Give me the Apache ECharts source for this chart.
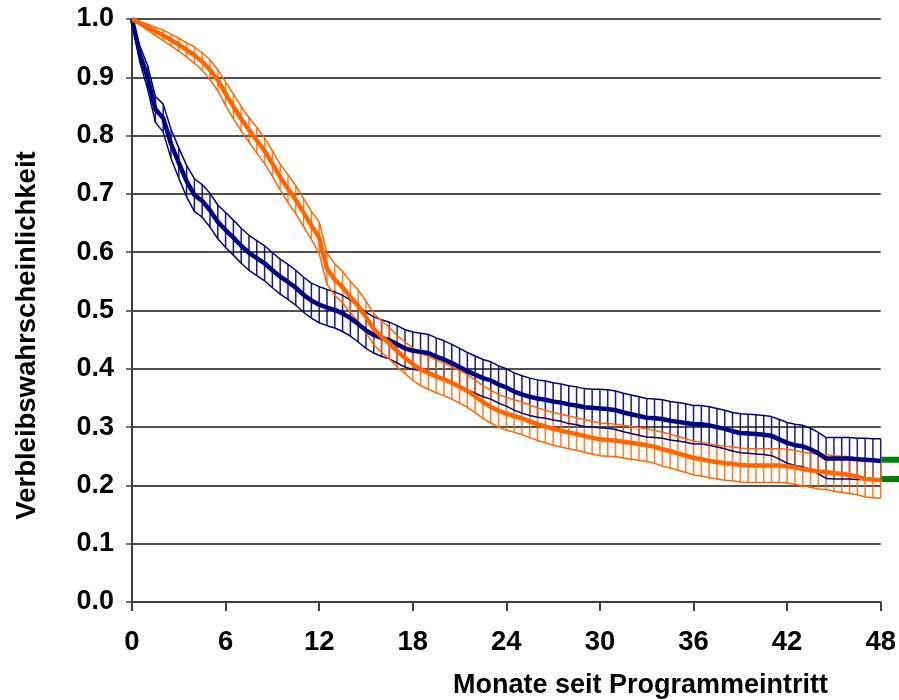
<!DOCTYPE html>
<html>
<head>
<meta charset="utf-8">
<script src="https://cdn.jsdelivr.net/npm/echarts@6/dist/echarts.min.js"></script>
<style>
  html, body { margin: 0; padding: 0; background: #fff; }
  #chart { width: 899px; height: 700px; }
</style>
</head>
<body>
<div id="chart"></div>
<script>
// Monate 0, 0.5, ... 48
var months = [];
for (var i = 0; i <= 96; i++) { months.push(i / 2); }

var yTicks = ['0.0', '0.1', '0.2', '0.3', '0.4', '0.5', '0.6', '0.7', '0.8', '0.9', '1.0'];
var xTicks = [0, 6, 12, 18, 24, 30, 36, 42, 48];

// dunkelblaue Kurve
var blueMain = [1.000, 0.940, 0.900, 0.845, 0.830, 0.786, 0.753, 0.722, 0.698, 0.688,
    0.672, 0.652, 0.638, 0.625, 0.611, 0.599, 0.590, 0.581, 0.569, 0.558,
    0.549, 0.539, 0.527, 0.517, 0.510, 0.505, 0.501, 0.495, 0.487, 0.477,
    0.466, 0.458, 0.453, 0.449, 0.442, 0.435, 0.431, 0.429, 0.427, 0.421,
    0.416, 0.410, 0.403, 0.396, 0.390, 0.384, 0.380, 0.373, 0.368, 0.361,
    0.356, 0.352, 0.349, 0.347, 0.344, 0.342, 0.339, 0.337, 0.334, 0.333,
    0.332, 0.331, 0.329, 0.325, 0.322, 0.319, 0.316, 0.315, 0.314, 0.311,
    0.309, 0.307, 0.305, 0.305, 0.303, 0.300, 0.297, 0.293, 0.290, 0.289,
    0.288, 0.287, 0.285, 0.279, 0.273, 0.269, 0.267, 0.262, 0.255, 0.246,
    0.246, 0.246, 0.246, 0.245, 0.244, 0.243, 0.242];
var blueHigh = [1.000, 0.954, 0.920, 0.867, 0.854, 0.811, 0.779, 0.749, 0.726, 0.716,
    0.701, 0.681, 0.668, 0.655, 0.641, 0.629, 0.620, 0.611, 0.599, 0.588,
    0.579, 0.569, 0.557, 0.547, 0.541, 0.536, 0.532, 0.526, 0.518, 0.508,
    0.497, 0.489, 0.484, 0.480, 0.474, 0.467, 0.463, 0.461, 0.459, 0.453,
    0.448, 0.442, 0.435, 0.428, 0.422, 0.416, 0.412, 0.405, 0.400, 0.393,
    0.388, 0.384, 0.381, 0.379, 0.376, 0.374, 0.371, 0.369, 0.366, 0.365,
    0.365, 0.364, 0.362, 0.358, 0.355, 0.352, 0.349, 0.348, 0.347, 0.344,
    0.342, 0.340, 0.337, 0.337, 0.335, 0.332, 0.329, 0.325, 0.323, 0.322,
    0.321, 0.320, 0.318, 0.313, 0.308, 0.305, 0.303, 0.298, 0.291, 0.282,
    0.282, 0.282, 0.282, 0.281, 0.281, 0.280, 0.280];
var blueLow = [1.000, 0.926, 0.880, 0.823, 0.806, 0.761, 0.727, 0.695, 0.670, 0.660,
    0.643, 0.623, 0.608, 0.595, 0.581, 0.569, 0.560, 0.551, 0.539, 0.528,
    0.519, 0.509, 0.497, 0.487, 0.479, 0.474, 0.470, 0.464, 0.456, 0.446,
    0.435, 0.427, 0.421, 0.417, 0.410, 0.403, 0.399, 0.397, 0.395, 0.389,
    0.384, 0.378, 0.371, 0.364, 0.358, 0.352, 0.348, 0.341, 0.336, 0.329,
    0.324, 0.320, 0.317, 0.315, 0.312, 0.310, 0.306, 0.304, 0.301, 0.300,
    0.299, 0.298, 0.296, 0.292, 0.289, 0.286, 0.283, 0.282, 0.281, 0.278,
    0.276, 0.274, 0.271, 0.271, 0.269, 0.266, 0.263, 0.259, 0.256, 0.255,
    0.254, 0.253, 0.251, 0.245, 0.238, 0.234, 0.232, 0.227, 0.220, 0.212,
    0.211, 0.211, 0.211, 0.210, 0.210, 0.209, 0.209];

// orange Kurve
var orangeMain = [1.000, 0.993, 0.986, 0.979, 0.972, 0.964, 0.956, 0.947, 0.938, 0.927,
    0.913, 0.895, 0.872, 0.850, 0.829, 0.810, 0.792, 0.774, 0.752, 0.729,
    0.709, 0.690, 0.668, 0.646, 0.625, 0.572, 0.553, 0.540, 0.523, 0.508,
    0.489, 0.468, 0.455, 0.444, 0.430, 0.419, 0.408, 0.399, 0.393, 0.387,
    0.382, 0.376, 0.369, 0.362, 0.353, 0.343, 0.335, 0.328, 0.323, 0.319,
    0.315, 0.310, 0.305, 0.301, 0.297, 0.294, 0.291, 0.288, 0.285, 0.282,
    0.279, 0.278, 0.277, 0.275, 0.273, 0.271, 0.269, 0.266, 0.262, 0.259,
    0.255, 0.251, 0.247, 0.245, 0.242, 0.240, 0.238, 0.237, 0.235, 0.234,
    0.234, 0.234, 0.234, 0.234, 0.233, 0.231, 0.228, 0.226, 0.224, 0.223,
    0.221, 0.220, 0.218, 0.215, 0.211, 0.210, 0.209];
var orangeHigh = [1.000, 0.996, 0.991, 0.986, 0.981, 0.974, 0.967, 0.959, 0.952, 0.942,
    0.930, 0.913, 0.892, 0.871, 0.850, 0.831, 0.814, 0.796, 0.774, 0.751,
    0.733, 0.714, 0.692, 0.670, 0.652, 0.599, 0.580, 0.567, 0.550, 0.535,
    0.516, 0.495, 0.482, 0.471, 0.457, 0.446, 0.436, 0.427, 0.421, 0.415,
    0.410, 0.404, 0.397, 0.390, 0.381, 0.371, 0.363, 0.356, 0.351, 0.347,
    0.343, 0.338, 0.333, 0.329, 0.325, 0.322, 0.319, 0.316, 0.313, 0.310,
    0.307, 0.306, 0.305, 0.303, 0.301, 0.299, 0.297, 0.294, 0.291, 0.288,
    0.284, 0.280, 0.276, 0.274, 0.271, 0.269, 0.267, 0.266, 0.264, 0.263,
    0.263, 0.263, 0.263, 0.263, 0.262, 0.260, 0.257, 0.255, 0.254, 0.253,
    0.251, 0.250, 0.249, 0.246, 0.243, 0.242, 0.241];
var orangeLow = [1.000, 0.990, 0.981, 0.972, 0.963, 0.954, 0.945, 0.935, 0.924, 0.912,
    0.896, 0.877, 0.852, 0.829, 0.808, 0.789, 0.770, 0.752, 0.730, 0.707,
    0.685, 0.666, 0.644, 0.622, 0.598, 0.545, 0.526, 0.513, 0.496, 0.481,
    0.462, 0.441, 0.428, 0.417, 0.403, 0.392, 0.380, 0.371, 0.365, 0.359,
    0.354, 0.348, 0.341, 0.334, 0.325, 0.315, 0.307, 0.300, 0.295, 0.291,
    0.287, 0.282, 0.277, 0.273, 0.269, 0.266, 0.263, 0.260, 0.257, 0.254,
    0.251, 0.250, 0.249, 0.247, 0.245, 0.243, 0.241, 0.238, 0.233, 0.230,
    0.226, 0.222, 0.218, 0.216, 0.213, 0.211, 0.209, 0.208, 0.206, 0.205,
    0.205, 0.205, 0.205, 0.205, 0.204, 0.202, 0.199, 0.197, 0.194, 0.193,
    0.190, 0.188, 0.186, 0.184, 0.180, 0.179, 0.178];

// gruene Markierungen am rechten Rand
var greenX = [48.05, 49.2];
var greenY = [0.244, 0.211];

var NAVY = '#000080';
var ORANGE = '#ff6600';

var pairs = function (ys) {
    var out = [];
    for (var i = 0; i < months.length; i++) {
        out.push([months[i], ys[i]]);
    }
    return out;
};

var bandData = function (lo, hi) {
    var out = [];
    for (var i = 0; i < months.length; i++) {
        out.push([months[i], lo[i], hi[i]]);
    }
    return out;
};

var bandSeries = function (lo, hi, color, opacity) {
    return {
        type: 'custom',
        data: bandData(lo, hi),
        silent: true,
        z: 2,
        renderItem: function (params, api) {
            var x = api.value(0);
            var p1 = api.coord([x, api.value(1)]);
            var p2 = api.coord([x, api.value(2)]);
            return {
                type: 'line',
                shape: { x1: p1[0], y1: p1[1], x2: p2[0], y2: p2[1] },
                style: { stroke: color, lineWidth: 1.5, opacity: opacity }
            };
        }
    };
};

var lineSeries = function (ys, color, width, z) {
    return {
        type: 'line',
        data: pairs(ys),
        showSymbol: false,
        silent: true,
        z: z,
        lineStyle: { color: color, width: width }
    };
};

// kurze gruene Striche rechts ausserhalb der Zeichenflaeche
var greenSeries = {
    type: 'custom',
    data: greenY.map(function (y) { return [greenX[0], y, greenX[1]]; }),
    clip: false,
    silent: true,
    z: 5,
    renderItem: function (params, api) {
        var p1 = api.coord([api.value(0), api.value(1)]);
        var p2 = api.coord([api.value(2), api.value(1)]);
        return {
            type: 'line',
            shape: { x1: p1[0], y1: p1[1], x2: p2[0], y2: p2[1] },
            style: { stroke: '#008000', lineWidth: 6 }
        };
    }
};

var chart = echarts.init(document.getElementById('chart'));
var font = "'Liberation Sans', Arial, sans-serif";

var option = {
    animation: false,
    title: {
        text: 'Monate seit Programmeintritt',
        right: 66,
        top: 667,
        textStyle: { fontFamily: font, fontWeight: 'bold', fontSize: 27, color: '#000' }
    },
    grid: { left: 132, right: 16, top: 19, bottom: 98 },
    xAxis: {
        type: 'value',
        min: 0,
        max: 48,
        interval: 6,
        axisLine: { lineStyle: { color: '#404040', width: 2 } },
        axisTick: { show: true, length: 9, lineStyle: { color: '#404040', width: 2 } },
        axisLabel: {
            margin: 26,
            fontFamily: font, fontWeight: 'bold', fontSize: 27.5, color: '#000',
            formatter: function (v) { return xTicks.indexOf(v) >= 0 ? String(v) : ''; }
        },
        splitLine: { show: false }
    },
    yAxis: {
        type: 'value',
        min: 0,
        max: 1,
        interval: 0.1,
        name: 'Verbleibswahrscheinlichkeit',
        nameLocation: 'middle',
        nameGap: 91,
        nameTextStyle: {
            fontFamily: font, fontWeight: 'bold', fontSize: 27.5, color: '#000',
            padding: [0, 50, 0, 0]
        },
        axisLine: { show: true, lineStyle: { color: '#404040', width: 2 } },
        axisTick: { show: true, length: 6, lineStyle: { color: '#404040', width: 1.5 } },
        axisLabel: {
            margin: 18,
            fontFamily: font, fontWeight: 'bold', fontSize: 27, color: '#000',
            formatter: function (v) { return yTicks[Math.round(v * 10)]; }
        },
        splitLine: { show: true, lineStyle: { color: '#505050', width: 2 } }
    },
    series: [
        bandSeries(blueLow, blueHigh, NAVY, 0.9),
        bandSeries(orangeLow, orangeHigh, ORANGE, 0.85),
        lineSeries(blueHigh, NAVY, 1.5, 3),
        lineSeries(blueLow, NAVY, 1.5, 3),
        lineSeries(orangeHigh, ORANGE, 1.5, 3),
        lineSeries(orangeLow, ORANGE, 1.5, 3),
        lineSeries(blueMain, NAVY, 4.5, 4),
        lineSeries(orangeMain, ORANGE, 4.5, 4),
        greenSeries
    ]
};

chart.setOption(option);
</script>
</body>
</html>
